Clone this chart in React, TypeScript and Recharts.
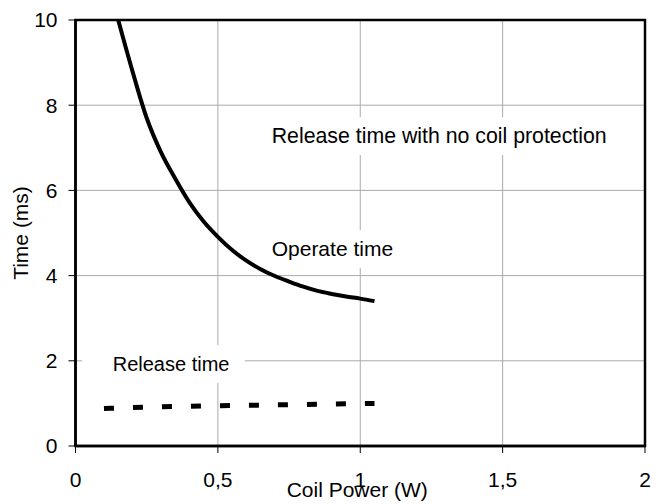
import {
  LineChart,
  Line,
  XAxis,
  YAxis,
  CartesianGrid,
  ReferenceArea,
  Label
} from "recharts";

const powerTicks = [0, 0.5, 1, 1.5, 2];
const timeTicks = [0, 2, 4, 6, 8, 10];
const innerPower = [0.5, 1, 1.5];
const innerTime = [2, 4, 6, 8];

// operate time curve (solid)
const operatePower = [0.15, 0.2, 0.25, 0.3, 0.35, 0.4, 0.45, 0.5, 0.55, 0.6, 0.65, 0.7, 0.75, 0.8, 0.85, 0.9, 0.95, 1.0, 1.05];
const operateTime = [10, 8.8, 7.7, 6.9, 6.28, 5.72, 5.27, 4.91, 4.6, 4.35, 4.15, 3.99, 3.86, 3.74, 3.64, 3.57, 3.51, 3.46, 3.4];

// release time curve (dashed)
const releasePower = [0.1, 0.3, 0.5, 0.7, 0.9, 1.05];
const releaseTime = [0.88, 0.92, 0.945, 0.965, 0.985, 1.0];

const operateData = operatePower.map((x, i) => ({ x, y: operateTime[i] }));
const releaseData = releasePower.map((x, i) => ({ x, y: releaseTime[i] }));

const FONT = "'Liberation Sans', Arial, sans-serif";

// text notes, each sits on a white box that cuts the grid
const notes = [
  { text: "Release time with no coil protection", x1: 0.676, x2: 1.884, y1: 6.83, y2: 7.72, dx: 3.7, dy: 26, size: 21.3 },
  { text: "Operate time", x1: 0.676, x2: 1.14, y1: 4.18, y2: 5.07, dx: 3.7, dy: 26, size: 21 },
  { text: "Release time", x1: 0.023, x2: 0.595, y1: 1.48, y2: 2.37, dx: 30.7, dy: 26, size: 20 }
];

const noteContent = (text: string, dx: number, dy: number, size: number) => (props: any) => {
  const vb = props.viewBox;
  return (
    <text x={vb.x + dx} y={vb.y + dy} fontSize={size} fontFamily={FONT} fill="#000">
      {text}
    </text>
  );
};

const tickStyle = { fill: "#000", fontSize: 21, fontFamily: FONT };

export default function App() {
  return (
    <div style={{ position: "absolute", left: 0, top: 0, background: "#fff" }}>
      <LineChart width={657} height={504} margin={{ top: 20, right: 12, bottom: 0, left: 0 }}>
        <CartesianGrid
          stroke="#aaaaaa"
          strokeWidth={1}
          horizontalValues={innerTime}
          verticalValues={innerPower}
        />
        <XAxis
          type="number"
          dataKey="x"
          domain={[0, 2]}
          ticks={powerTicks}
          tickFormatter={(v: number) => String(v).replace(".", ",")}
          height={58}
          tickSize={7}
          tickMargin={19}
          stroke="#000"
          axisLine={{ stroke: "#000", strokeWidth: 2.5 }}
          tickLine={{ stroke: "#000" }}
          tick={tickStyle}
          allowDataOverflow
        >
          <Label
            content={(props: any) => {
              const vb = props.viewBox;
              return (
                <text x={vb.x + vb.width / 2 - 3} y={vb.y + 51} textAnchor="middle" fontSize={21} fontFamily={FONT} fill="#000">
                  Coil Power (W)
                </text>
              );
            }}
          />
        </XAxis>
        <YAxis
          type="number"
          domain={[0, 10]}
          ticks={timeTicks}
          width={75.5}
          tickSize={7}
          tickMargin={11}
          stroke="#000"
          axisLine={{ stroke: "#000", strokeWidth: 2.5 }}
          tickLine={{ stroke: "#000" }}
          tick={tickStyle}
          allowDataOverflow
        >
          <Label
            content={(props: any) => {
              const vb = props.viewBox;
              const cx = vb.x + 27.5;
              const cy = vb.y + vb.height / 2;
              return (
                <text x={cx} y={cy} transform={`rotate(-90, ${cx}, ${cy})`} textAnchor="middle" fontSize={21} fontFamily={FONT} fill="#000">
                  Time (ms)
                </text>
              );
            }}
          />
        </YAxis>
        {notes.map((n) => (
          <ReferenceArea
            key={n.text}
            x1={n.x1}
            x2={n.x2}
            y1={n.y1}
            y2={n.y2}
            fill="#fff"
            fillOpacity={1}
            stroke="none"
            label={<Label content={noteContent(n.text, n.dx, n.dy, n.size)} />}
          />
        ))}
        {/* plot frame */}
        <ReferenceArea
          x1={0}
          x2={2}
          y1={0}
          y2={10}
          fill="none"
          stroke="#000"
          strokeWidth={2.5}
          fillOpacity={0}
        />
        <Line
          data={operateData}
          dataKey="y"
          type="monotone"
          stroke="#000"
          strokeWidth={4}
          dot={false}
          activeDot={false}
          isAnimationActive={false}
        />
        <Line
          data={releaseData}
          dataKey="y"
          type="monotone"
          stroke="#000"
          strokeWidth={5}
          strokeDasharray="10 19"
          dot={false}
          activeDot={false}
          isAnimationActive={false}
        />
      </LineChart>
    </div>
  );
}
